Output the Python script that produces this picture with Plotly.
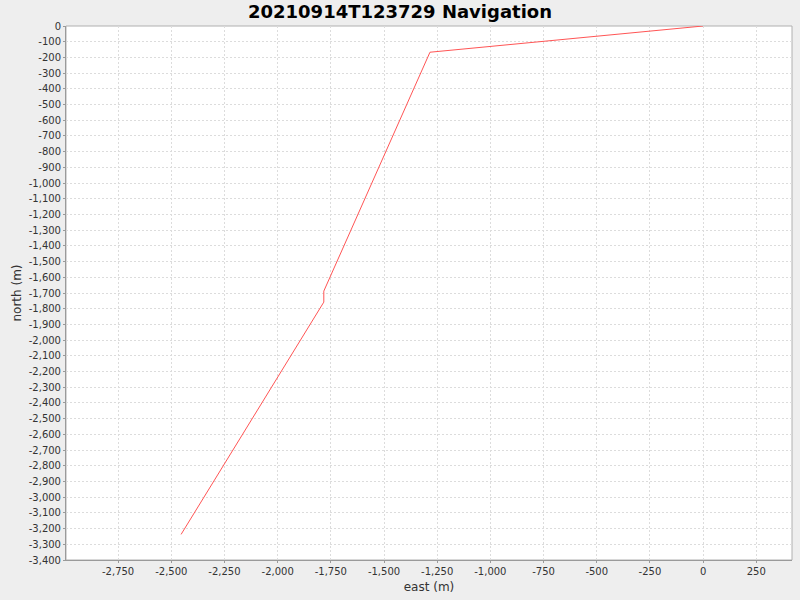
import plotly.graph_objects as go

# navigation track (metres, relative to start)
east = [0, -1284, -1783, -1783, -2454]
north = [0, -167, -1688, -1758, -3237]

x_ticks = list(range(-2750, 251, 250))
y_ticks = list(range(0, -3401, -100))

title = '20210914T123729 Navigation'
font = 'DejaVu Sans'
grid = '#dcdcdc'
axis_color = '#9a9a9a'

fig = go.Figure()
fig.add_trace(go.Scatter(x=east, y=north, mode='lines',
                         line=dict(color='#ff5555', width=1),
                         showlegend=False))

fig.update_layout(
    width=800, height=600,
    paper_bgcolor='#eeeeee', plot_bgcolor='white',
    margin=dict(l=66, r=8, t=26, b=40),
    font=dict(family=font, size=10, color='#333333'),
    title=dict(text=f'<b>{title}</b>', x=0.5, xanchor='center', y=0.98, yanchor='middle',
               font=dict(family=font, size=18, color='black')),
)
fig.update_xaxes(
    range=[-2995, 418],
    tickvals=x_ticks, ticktext=[f'{v:,}' for v in x_ticks],
    title=dict(text='east (m)', font=dict(size=12, color='#333333'), standoff=6),
    showline=True, linecolor=axis_color, linewidth=1, mirror=False,
    ticks='outside', ticklen=2, tickcolor=axis_color,
    showgrid=True, gridcolor=grid, griddash='2px,2px', gridwidth=1,
    zeroline=False,
)
fig.update_yaxes(
    range=[-3400, 0],
    tickvals=y_ticks, ticktext=[f'{v:,}' for v in y_ticks],
    title=dict(text='north (m)', font=dict(size=12, color='#333333'), standoff=4),
    showline=True, linecolor=axis_color, linewidth=1, mirror=False,
    ticks='outside', ticklen=2, tickcolor=axis_color,
    showgrid=True, gridcolor=grid, griddash='2px,2px', gridwidth=1,
    zeroline=False,
)
fig.add_shape(type='rect', xref='paper', yref='paper', x0=0, y0=0, x1=1, y1=1,
              line=dict(color='#b0b0b0', width=1), layer='below')

# drop the default page margin so the 800x600 figure fills the window
fig.write_html('out.html', config={'displayModeBar': False},
               post_script="document.body.style.margin='0px';")
